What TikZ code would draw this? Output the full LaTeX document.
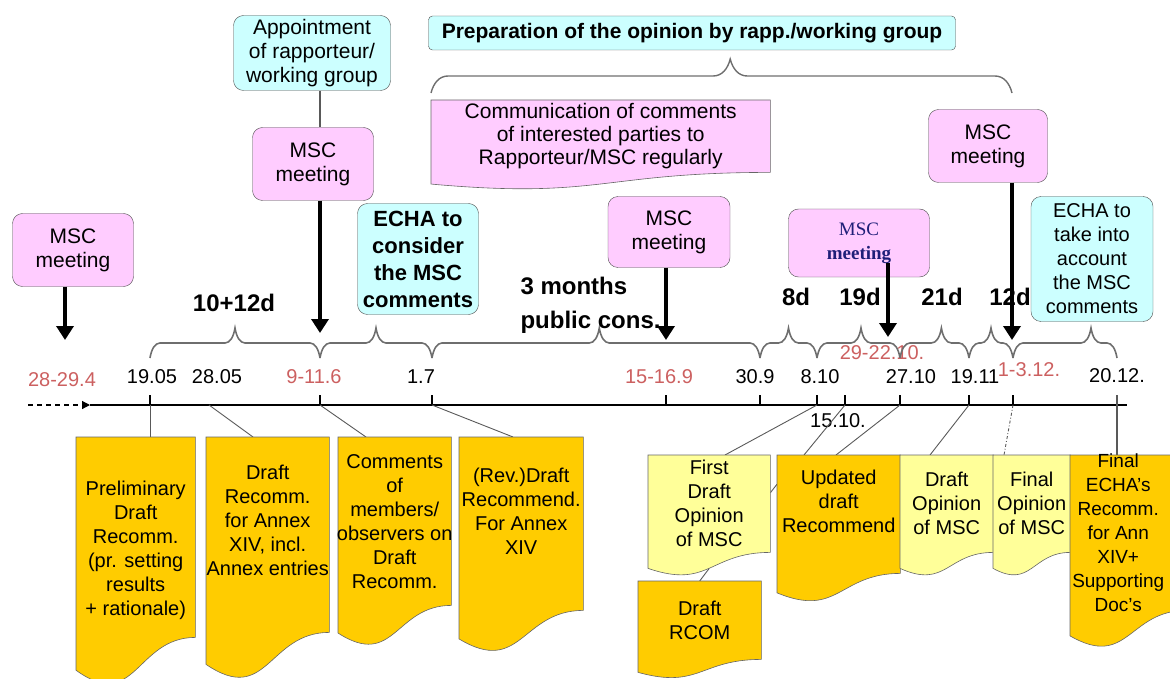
\documentclass[tikz,border=0pt]{standalone}
\usepackage{fontspec}
\setmainfont{Liberation Sans}
\newfontfamily\timesfont{Liberation Serif}
\usetikzlibrary{arrows.meta,decorations.pathreplacing}

\definecolor{mscpink}{RGB}{255,204,255}
\definecolor{echacyan}{RGB}{204,255,255}
\definecolor{docgold}{RGB}{255,204,0}
\definecolor{docpale}{RGB}{255,255,153}
\definecolor{datered}{RGB}{204,96,96}
\definecolor{bracegray}{RGB}{110,110,110}
\definecolor{navyblue}{RGB}{31,31,120}

% wavy document outline round an (invisible) frame node: name, fill, depth of the wave
\newcommand{\docwave}[3]{%
  \filldraw[docline, fill=#2] (#1.north west) -- (#1.north east) -- (#1.south east)
    .. controls (#1.south) and ([yshift=-#3]#1.south) .. ([yshift={-0.432*#3}]#1.south west) -- cycle;}

\tikzset{box/.style={ % Rounded text boxes above the time line
            draw=black!70,
            rounded corners=10pt,
            align=center,
            inner sep=2pt,
            font=\fontsize{21}{24}\selectfont},
        msc/.style={box, fill=mscpink, minimum width=121pt, minimum height=73pt},
        echa/.style={box, fill=echacyan},
        docbox/.style={anchor=north west, inner sep=0pt}, % Frame of a document, drawn by \docwave
        docline/.style={draw=black!60, semithick},
        doctext/.style={align=center, font=\fontsize{20}{24}\selectfont},
        date/.style={font=\fontsize{20}{22}\selectfont},
        reddate/.style={date, text=datered},
        span/.style={font=\bfseries\fontsize{24}{30}\selectfont},
        meet/.style={ % Bold arrows from the meetings
            line width=4.5pt,
            -{Triangle[length=14pt,width=17pt]}},
        brc/.style={ % Small braces over the time line
            draw=bracegray, line width=1.6pt, decorate,
            decoration={brace, amplitude=10pt, aspect=#1, transform={yscale=3}}},
        brc/.default=0.5,
        bigbrc/.style={draw=bracegray, line width=1.4pt, decorate,
            decoration={brace, amplitude=17pt, aspect=0.515, transform={yscale=2}}},
        link/.style={draw=black!65, line width=0.9pt}
        }

\begin{document}
\begin{tikzpicture}[x=1pt, y=-1pt]
    \path[use as bounding box, clip] (0,0) rectangle (1170,679);

    % boxes above the time line
    \node[msc] (m1) at (73,250) {MSC\\meeting};
    \node[echa, minimum width=157pt, minimum height=75pt] (app) at (312,53) {Appointment\\of rapporteur/\\working group};
    \node[msc] (m2) at (313,164) {MSC\\meeting};
    \node[echa, minimum width=121pt, minimum height=111pt, font=\bfseries\fontsize{22}{27}\selectfont] (echa1) at (418,259) {ECHA to\\consider\\the MSC\\comments};
    \node[echa, rounded corners=4pt, minimum width=527pt, minimum height=34pt, font=\bfseries\fontsize{21}{24}\selectfont] (prep) at (692,33) {Preparation of the opinion by rapp./working group};
    \node[msc, minimum width=122pt, minimum height=71pt] (m3) at (669,232) {MSC\\meeting};
    \node[msc, minimum width=141pt, minimum height=68pt, text=navyblue, font=\timesfont\fontsize{19}{24}\selectfont] (m4) at (859,243) {MSC\\\textbf{meeting}};
    \node[msc, minimum width=119pt] (m5) at (988,146) {MSC\\meeting};
    \node[echa, minimum width=122pt, minimum height=125pt, font=\fontsize{20}{24}\selectfont] (echa2) at (1092,259) {ECHA to\\take into\\account\\the MSC\\comments};

    \node[docbox, minimum width=339pt, minimum height=72pt] (comm) at (431,100) {};
    \docwave{comm}{mscpink}{27pt}
    \node[doctext, font=\fontsize{21}{23}\selectfont] (commtext) at (comm.center) {Communication of comments\\of interested parties to\\Rapporteur/MSC regularly};

    \coordinate (prepl) at (431,93);
    \coordinate (prepr) at (1012,93);
    \draw[bigbrc] (prepl) -- (prepr);

    % time line
    \coordinate (axstart) at (28,405);
    \coordinate (axhead) at (90,405);
    \coordinate (axend) at (1127,405);
    \coordinate (t1905) at (150,405);
    \coordinate (t2805) at (209,405);
    \coordinate (t0906) at (320,405);
    \coordinate (t0107) at (432,405);
    \coordinate (t1509) at (666,405);
    \coordinate (t3009) at (760,405);
    \coordinate (t0810) at (817,405);
    \coordinate (t1510) at (845,405);
    \coordinate (t2710) at (900,405);
    \coordinate (t1911) at (969,405);
    \coordinate (t0112) at (1013,405);
    \coordinate (t2012) at (1117,405);

    \draw[line width=1.2pt, dash pattern=on 5pt off 4pt, -{Triangle[length=8pt,width=8pt]}] (axstart) -- (axhead);
    \draw[line width=1.2pt] (axhead) -- (axend);
    \draw[line width=1.2pt] (t1905) -- ++(0,-10);
    \draw[line width=1.2pt] (t0906) -- ++(0,-10);
    \draw[line width=1.2pt] (t0107) -- ++(0,-10);
    \draw[line width=1.2pt] (t1509) -- ++(0,-10);
    \draw[line width=1.2pt] (t3009) -- ++(0,-10);
    \draw[line width=1.2pt] (t0810) -- ++(0,-10);
    \draw[line width=1.2pt] (t1510) -- ++(0,-10);
    \draw[line width=1.2pt] (t2710) -- ++(0,-10);
    \draw[line width=1.2pt] (t1911) -- ++(0,-10);
    \draw[line width=1.2pt] (t0112) -- ++(0,-10);
    \draw[line width=1.2pt] (t2012) -- ++(0,-10);

    \node[reddate] (l2804) at (62,380) {28-29.4};
    \node[date] (l1905) at (152,377) {19.05};
    \node[date] (l2805) at (217,377) {28.05};
    \node[reddate] (l0906) at (314,377) {9-11.6};
    \node[date] (l0107) at (421,377) {1.7};
    \node[reddate] (l1509) at (659,377) {15-16.9};
    \node[date] (l3009) at (755,377) {30.9};
    \node[date] (l0810) at (820,377) {8.10};
    \node[reddate] (l2910) at (882,353) {29-22.10.};
    \node[date] (l1510) at (838,421) {15.10.};
    \node[date] (l2710) at (911,377) {27.10};
    \node[date] (l1911) at (975,377) {19.11};
    \node[reddate] (l0112) at (1029,370) {1-3.12.};
    \node[date] (l2012) at (1117,376) {20.12.};

    % periods
    \draw[brc] ([yshift=47pt]t1905) -- ([yshift=47pt]t0906);
    \draw[brc] ([yshift=47pt]t0906) -- ([yshift=47pt]t0107);
    \draw[brc=0.51] ([yshift=47pt]t0107) -- ([yshift=47pt]t3009);
    \draw[brc] ([yshift=47pt]t3009) -- ([yshift=47pt]t0810);
    \draw[brc=0.53] ([yshift=47pt]t0810) -- ([yshift=47pt]t2710);
    \draw[brc=0.6] ([yshift=47pt]t2710) -- ([yshift=47pt]t1911);
    \draw[brc] ([yshift=47pt]t1911) -- ([yshift=47pt]t0112);
    \draw[brc=0.75] ([yshift=47pt]t0112) -- ([yshift=47pt]t2012);

    \node[span] (s1) at (234,303) {10+12d};
    \node[span, align=left, anchor=west, font=\bfseries\fontsize{24}{34}\selectfont] (s2) at (517,305) {3 months\\public cons.};
    \node[span] (s3) at (796,297) {8d};
    \node[span] (s4) at (860,297) {19d};
    \node[span] (s5) at (942,297) {21d};
    \node[span] (s6) at (1010,297) {12d};

    % meetings
    \coordinate (a2804) at (65,340);
    \coordinate (a0906) at (320,333);
    \coordinate (a1509) at (666,340);
    \coordinate (a2710) at (888,337);
    \coordinate (a0112) at (1012,340);
    \draw[link, line width=1.2pt] (app.south -| a0906) -- (m2.north -| a0906);
    \draw[meet] (m1.south -| a2804) -- (a2804);
    \draw[meet] (m2.south -| a0906) -- (a0906);
    \draw[meet] (m3.south -| a1509) -- (a1509);
    \draw[meet] ([yshift=14pt]m4.south -| a2710) -- (a2710);
    \draw[meet] (m5.south -| a0112) -- (a0112);

    % documents
    \node[docbox, minimum width=119pt, minimum height=200pt] (d1) at (76,437) {};
    \node[docbox, minimum width=123pt, minimum height=195pt] (d2) at (206,437) {};
    \node[docbox, minimum width=113pt, minimum height=168pt] (d3) at (338,437) {};
    \node[docbox, minimum width=124pt, minimum height=173pt] (d4) at (459,437) {};
    \node[docbox, minimum width=122pt, minimum height=97pt] (d5) at (648,455) {};
    \node[docbox, minimum width=123pt, minimum height=78pt] (d6) at (638,581) {};
    \node[docbox, minimum width=123pt, minimum height=118pt] (d7) at (777,455) {};
    \node[docbox, minimum width=93pt, minimum height=97pt] (d8) at (900,455) {};
    \node[docbox, minimum width=77pt, minimum height=97pt] (d9) at (993,455) {};
    \node[docbox, minimum width=116pt, minimum height=155pt] (d10) at (1070,455) {};

    \draw[link] (t1905) -- (d1.north -| t1905);
    \draw[link] (t2805) -- ([xshift=47pt]d2.north west);
    \draw[link] (t0906) -- ([xshift=28pt]d3.north west);
    \draw[link] (t0107) -- ([xshift=54pt]d4.north west);
    \draw[link] (t0810) -- ([xshift=77pt]d5.north west);
    \draw[link] (t1510) -- ([xshift=27pt]d7.north west);
    \draw[link] (t2710) -- ([xshift=59pt]d7.north west);
    \draw[link] (t1911) -- ([xshift=30pt]d8.north west);
    \draw[link, dash dot] (t0112) -- ([xshift=11pt]d9.north west);
    \draw[link, line width=1.2pt] ([yshift=10pt]t2012) -- (d10.north -| t2012);
    \draw[link] ([yshift=11pt]d5.east) -- ([yshift=30pt]d7.west);
    \draw[link] ([yshift=-16pt]d5.south) -- (d6.north);

    \docwave{d1}{docgold}{76pt}
    \docwave{d2}{docgold}{74pt}
    \docwave{d3}{docgold}{64pt}
    \docwave{d4}{docgold}{66pt}
    \docwave{d5}{docpale}{37pt}
    \docwave{d6}{docgold}{30pt}
    \docwave{d7}{docgold}{45pt}
    \docwave{d8}{docpale}{37pt}
    \docwave{d9}{docpale}{37pt}
    \docwave{d10}{docgold}{59pt}

    \node[doctext] (d1text) at ([yshift=-13pt]d1.center) {Preliminary\\Draft\\Recomm.\\(pr. setting\\results\\+ rationale)};
    \node[doctext] (d2text) at ([yshift=14pt]d2.center) {Draft\\Recomm.\\for Annex\\XIV, incl.\\Annex entries};
    \node[doctext] (d3text) at (d3.center) {Comments\\of\\members/\\observers on\\Draft\\Recomm.};
    \node[doctext] (d4text) at ([yshift=12pt]d4.center) {(Rev.)Draft\\Recommend.\\For Annex\\XIV};
    \node[doctext] (d5text) at (d5.center) {First\\Draft\\Opinion\\of MSC};
    \node[doctext] (d6text) at (d6.center) {Draft\\RCOM};
    \node[doctext] (d7text) at ([yshift=13pt]d7.center) {Updated\\draft\\Recommend};
    \node[doctext] (d8text) at (d8.center) {Draft\\Opinion\\of MSC};
    \node[doctext] (d9text) at (d9.center) {Final\\Opinion\\of MSC};
    \node[doctext, font=\fontsize{19}{24}\selectfont] (d10text) at ([xshift=-10pt]d10.center) {Final\\ECHA's\\Recomm.\\for Ann\\XIV+\\Supporting\\Doc's};
\end{tikzpicture}
\end{document}
